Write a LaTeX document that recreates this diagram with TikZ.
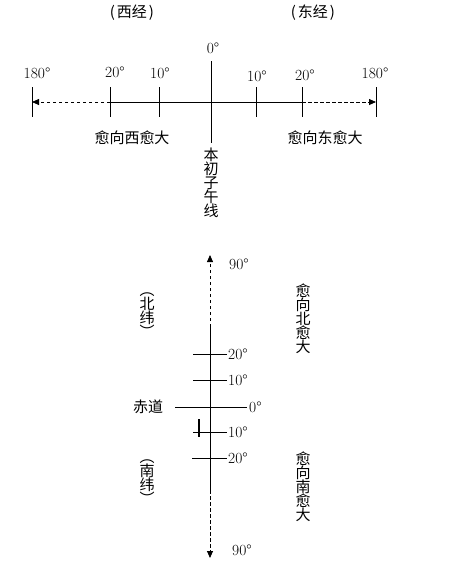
\documentclass[tikz,border=0pt]{standalone}
\usepackage{fontspec}
\newfontfamily\cjk{Noto Sans CJK SC}
\usetikzlibrary{arrows.meta,positioning,calc}

\begin{document}
\begin{tikzpicture}[
    x=1pt,
    y=-1pt,
    axis/.style={
        line width=0.8pt,
        draw=black
    },
    dashaxis/.style={
        axis,
        dash pattern=on 3.5pt off 2.5pt
    },
    endtip/.style={
        -{Triangle[length=7pt,width=6pt]}
    },
    tickline/.style={
        line width=0.8pt,
        draw=black
    },
    deglabel/.style={
        font=\fontsize{15.5}{15.5}\selectfont,
        inner sep=0pt
    },
    cjklabel/.style={
        font=\cjk\fontsize{15}{15}\selectfont,
        inner sep=0pt
    },
    vlabel/.style={
        font=\cjk\fontsize{15}{14}\selectfont,
        align=center,
        inner sep=0pt
    }
]

\useasboundingbox (0,0) rectangle (458,566);

\coordinate (lonW) at (32,102);
\coordinate (w20) at (110,102);
\coordinate (w10) at (159,102);
\coordinate (e10) at (256,102);
\coordinate (e20) at (302,102);
\coordinate (lonE) at (376,102);
\coordinate (primetop) at (211,61);
\coordinate (primebot) at (211,143);

\draw[axis] (w20) -- (e20);
\draw[dashaxis, endtip] (w20) -- (lonW);
\draw[dashaxis, endtip] (e20) -- (lonE);
\foreach \c in {lonW,w20,w10,e10,e20,lonE}
    \draw[tickline] ($(\c)+(0,-15)$) -- ($(\c)+(0,15)$);
\draw[axis] (primetop) -- (primebot);

\node[cjklabel] (west) at (132,13) {(\hspace{2pt}西经\hspace{2pt})};
\node[cjklabel] (east) at (313,13) {(\hspace{2pt}东经\hspace{2pt})};

\node[deglabel] (dW180) at (37,73) {180°};
\node[deglabel] (dW20) at (115,72) {20°};
\node[deglabel] (dW10) at (160,73) {10°};
\node[deglabel] (d0) at (213,48) {0°};
\node[deglabel] (dE10) at (257,76) {10°};
\node[deglabel] (dE20) at (305,75) {20°};
\node[deglabel] (dE180) at (375,73) {180°};

\node[cjklabel] (westinc) at (132,138) {愈向西愈大};
\node[cjklabel] (eastinc) at (325,138) {愈向东愈大};
\node[vlabel, below=5pt of primebot] (prime) {本\\初\\子\\午\\线};

\coordinate (northend) at (210,255);
\coordinate (northsolid) at (210,327);
\coordinate (southsolid) at (210,490);
\coordinate (southend) at (210,558);

\draw[axis] (northsolid) -- (southsolid);
\draw[dashaxis, endtip] (northsolid) -- (northend);
\draw[dashaxis, endtip] (southsolid) -- (southend);

\coordinate (n20) at (227,354);
\coordinate (n10) at (227,380);
\coordinate (equ) at (247,407);
\coordinate (s10) at (227,432);
\coordinate (s20) at (227,458);

\draw[tickline] (193,354) -- (n20);
\draw[tickline] (193,380) -- (n10);
\draw[tickline] (175,407) -- (equ);
\draw[tickline] (193,432) -- (s10);
\draw[tickline] (192,458) -- (s20);
\draw[line width=1.6pt] (199,419) -- (199,437);

\node[deglabel, anchor=west] (dN90) at (229,264) {90°};
\node[deglabel, anchor=west, right=1pt of n20] (dN20) {20°};
\node[deglabel, anchor=west, right=1pt of n10] (dN10) {10°};
\node[deglabel, anchor=west, right=2pt of equ] (dEq) {0°};
\node[deglabel, anchor=west, right=1pt of s10] (dS10) {10°};
\node[deglabel, anchor=west, right=1pt of s20] (dS20) {20°};
\node[deglabel, anchor=west] (dS90) at (232,550) {90°};

\node[cjklabel] (equator) at (148,407) {赤道};

\node[vlabel] (north) at (147,315) {︵\\北\\纬\\︶};
\node[vlabel] (northinc) at (303,319) {愈\\向\\北\\愈\\大};
\node[vlabel] (south) at (147,482) {︵\\南\\纬\\︶};
\node[vlabel] (southinc) at (303,487) {愈\\向\\南\\愈\\大};

\end{tikzpicture}
\end{document}
